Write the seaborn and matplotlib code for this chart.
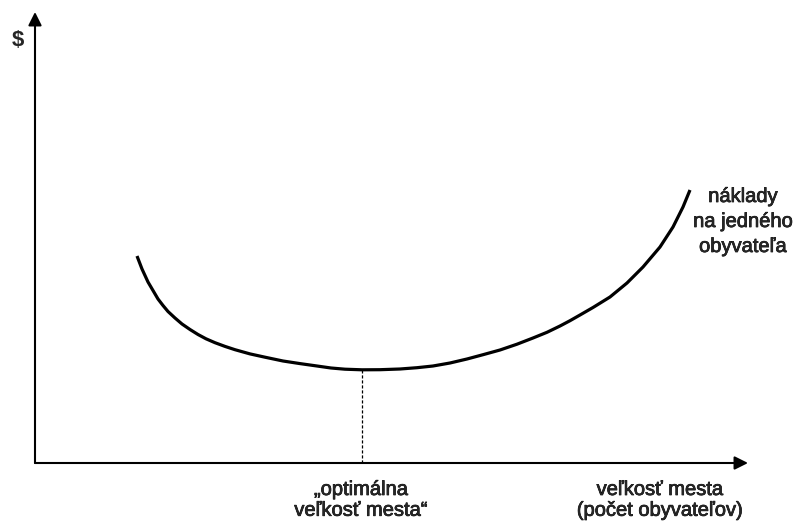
import matplotlib
matplotlib.use("Agg")
import matplotlib.pyplot as plt
import matplotlib.patheffects as pe
import seaborn as sns
import pandas as pd

sns.set_style("white")
plt.rcParams['font.family'] = ['Liberation Sans', 'DejaVu Sans']

# Curve: cost per inhabitant vs. city size (schematic units)
city_size = [102, 104.5, 107, 110, 113, 118, 123, 128, 133, 140, 147, 155, 163, 171, 180,
             190, 200, 215, 230, 248, 265, 282, 296, 310, 327, 345, 365, 382, 398, 415, 432,
             448, 465, 482, 498, 512, 525, 535, 545, 558, 575, 592, 608, 625, 638, 648, 655]
cost = [207, 200.5, 194, 187.5, 181, 172.5, 164, 157.5, 151.5, 145, 139, 133.5, 128.5, 124.2, 120.3,
        116.6, 113.3, 109.1, 105.8, 102, 99.4, 97, 95, 93.8, 93.2, 93.3, 94, 95.3, 97, 100, 104,
        108.3, 113, 118.8, 125, 130.7, 137, 142.3, 148, 155.5, 166, 180, 196, 216, 236, 256, 273]
optimum_size = 327
optimum_cost = 93.2

y_label = "$"
curve_label = "náklady\nna jedného\nobyvateľa"
optimum_label = "„optimálna\nveľkosť mesta“"
x_label = "veľkosť mesta\n(počet obyvateľov)"

df = pd.DataFrame({"size": city_size, "cost": cost})

fig = plt.figure(figsize=(7.94, 5.21), dpi=100)
ax = fig.add_axes([0, 0, 1, 1])
ax.set_xlim(-35, 759)
ax.set_ylim(-58, 463)
ax.axis("off")

sns.lineplot(data=df, x="size", y="cost", ax=ax, color="black", lw=2.3, sort=False,
             solid_joinstyle="round", solid_capstyle="butt")

# dashed drop line
ax.plot([optimum_size, optimum_size], [0, optimum_cost], color="black", lw=0.9,
        linestyle=(0, (2.5, 1.5)))

# axes with arrows
arrow = dict(arrowstyle="-|>", lw=1.5, color="black", mutation_scale=20,
             shrinkA=0, shrinkB=0)
ax.annotate("", xy=(713, 0), xytext=(0, 0), arrowprops=arrow)
ax.annotate("", xy=(0, 451), xytext=(0, 0), arrowprops=arrow)

fs = 14.5
thick = [pe.withStroke(linewidth=0.5, foreground="black")]
ax.text(-17.5, 423, y_label, fontsize=16, fontweight="bold", ha="center", va="center")
ax.text(708, 276, curve_label, fontsize=fs, ha="center", va="top", linespacing=1.4,
        path_effects=thick)
ax.text(326, -17, optimum_label, fontsize=fs, ha="center", va="top", linespacing=1.12,
        path_effects=thick)
ax.text(625, -17, x_label, fontsize=fs, ha="center", va="top", linespacing=1.12,
        path_effects=thick)

fig.savefig("out.png", dpi=100)
